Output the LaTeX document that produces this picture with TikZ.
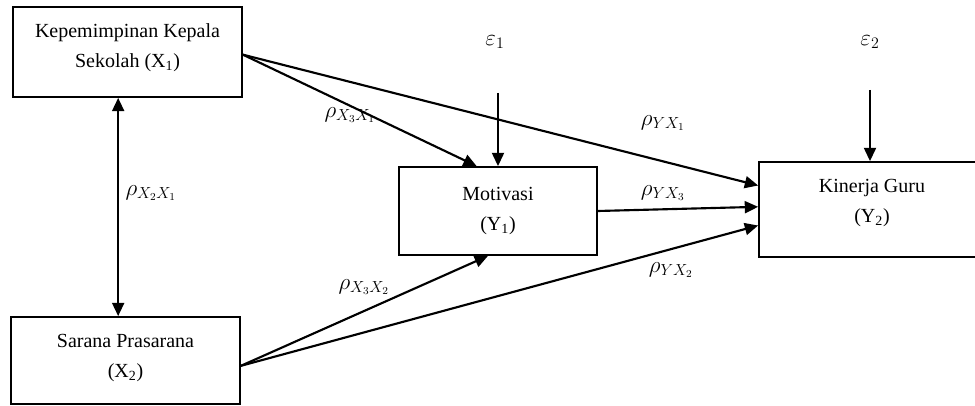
\documentclass[tikz,border=0pt]{standalone}
\usepackage{fontspec}
\setmainfont{Liberation Serif}
\usetikzlibrary{arrows.meta}

\begin{document}
\begin{tikzpicture}[x=0.75pt,y=-0.75pt,
  box/.style={draw, line width=1.3pt, align=center, inner sep=0pt,
    font=\fontsize{15}{22.5}\selectfont},
  path/.style={line width=1.6pt, -{Triangle[length=10pt,width=9pt]}},
  coef/.style={font=\fontsize{16.5}{18}\selectfont}]
\useasboundingbox (0,0) rectangle (975,406);
\node[box, minimum width=171.75pt, minimum height=67.5pt, text depth=9.5pt] (kep) at (127.5,52)
{Kepemimpinan Kepala\\Sekolah (X\textsubscript{1})};
\node[box, minimum width=171.75pt, minimum height=65.25pt, text depth=7pt] (sar) at (125.5,360.5)
{Sarana Prasarana\\(X\textsubscript{2})};
\node[box, minimum width=148.5pt, minimum height=66pt] (mot) at (498,211)
{Motivasi\\(Y\textsubscript{1})};
\node[box, minimum width=169.5pt, minimum height=71.25pt, text depth=13pt] (kin) at (872,209.5)
{Kinerja Guru\\(Y\textsubscript{2})};
% residuals
\node[coef] (e1) at (495,42) {$\varepsilon_1$};
\node[coef] (e2) at (870,42) {$\varepsilon_2$};
\coordinate (e1s) at (498,93);
\coordinate (e2s) at (870,90);
% paths
\draw[path, {Triangle[length=10pt,width=9pt]}-{Triangle[length=10pt,width=9pt]}]
  ([xshift=-7pt]kep.south) -- ([xshift=-7pt]kep.south |- sar.north);
\draw[path] ([yshift=-2pt]kep.east) -- ([xshift=-16pt]mot.north);
\draw[path] ([yshift=-2pt]kep.east) -- ([yshift=18pt]kin.west);
\draw[path] ([yshift=-4pt]sar.east) -- ([xshift=-7.5pt]mot.south);
\draw[path] ([yshift=-4pt]sar.east) -- ([yshift=-12pt]kin.west);
\draw[path] (mot.east) -- ([yshift=2pt]kin.west);
\draw[path] (e1s) -- (mot.north);
\draw[path] (e2s) -- (e2s |- kin.north);
% coefficients
\node[coef] (p21) at (151,193) {$\rho_{X_2X_1}$};
\node[coef] (p31) at (350,115) {$\rho_{X_3X_1}$};
\node[coef] (p32) at (364,287) {$\rho_{X_3X_2}$};
\node[coef] (py1) at (663,123) {$\rho_{YX_1}$};
\node[coef] (py3) at (663,193) {$\rho_{YX_3}$};
\node[coef] (py2) at (671,270) {$\rho_{YX_2}$};
\end{tikzpicture}
\end{document}
